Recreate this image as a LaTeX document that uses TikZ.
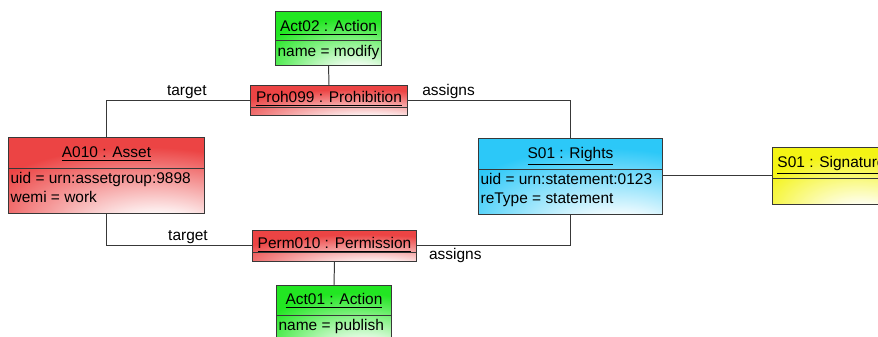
\documentclass[tikz,border=0pt]{standalone}
\usepackage{fontspec}
\setmainfont{Liberation Sans}
\usetikzlibrary{shapes.multipart}
\definecolor{cAct}{HTML}{22E622}
\definecolor{cRule}{HTML}{EC4444}
\definecolor{cRights}{HTML}{2CC8F8}
\definecolor{cSig}{HTML}{F4F414}
\definecolor{cLine}{HTML}{383838}
\colorlet{umlbase}{white}
% glow towards the lower middle of each box
\pgfdeclareradialshading[umlbase]{umlglow}{\pgfpoint{15bp}{-40bp}}%
  {color(0bp)=(white);color(9bp)=(white);color(42bp)=(umlbase);color(100bp)=(umlbase)}
\newcommand\upx{0.7113pt}
\newcommand\cstrut[2]{\rule[-\dimexpr\upx*#2\relax]{0pt}{\dimexpr\upx*(#1+#2)\relax}}
\tikzset{
  cls/.style = {rectangle split, rectangle split parts=2,
                rectangle split part align={center,left}, align=left,
                draw=cLine, line width=0.7pt, inner xsep=1.5pt, inner ysep=0pt,
                anchor=north west, font=\fontsize{11}{12}\selectfont,
                shade, shading=umlglow, /utils/exec={\colorlet{umlbase}{#1}}},
  ln/.style  = {draw=cLine, line width=0.7pt},
  lab/.style = {font=\fontsize{11}{12}\selectfont, inner sep=1pt},
}

\begin{document}
\begin{tikzpicture}[x=0.025cm, y=-0.025cm]
  \useasboundingbox[fill=white] (0,0) rectangle (878,336);
  \clip (0,0) rectangle (878,336);

  \node[cls=cAct, minimum width=106*0.025cm] (act02) at (275,11)
    {\cstrut{20}{8}\underline{Act02 : Action}\nodepart{two}\cstrut{16}{8}name = modify};
  \node[cls=cRule, minimum width=157*0.025cm] (proh) at (250,85)
    {\cstrut{17}{4}\underline{Proh099 : Prohibition}\nodepart{two}\cstrut{7}{0}};
  \node[cls=cRule, minimum width=196*0.025cm] (a010) at (8,137)
    {\cstrut{20}{10}\underline{A010 : Asset}\nodepart{two}\cstrut{15}{3}uid = urn:assetgroup:9898\\\cstrut{14}{10}wemi = work};
  \node[cls=cRights, minimum width=184*0.025cm] (rights) at (478,138)
    {\cstrut{20}{10}\underline{S01 : Rights}\nodepart{two}\cstrut{15}{3}uid = urn:statement:0123\\\cstrut{14}{11}reType = statement};
  \node[cls=cSig, minimum width=118*0.025cm] (sig) at (772,147)
    {\cstrut{20}{10}\underline{S01 : Signature}\nodepart{two}\cstrut{25}{0}};
  \node[cls=cRule, minimum width=164*0.025cm] (perm) at (252,230)
    {\cstrut{18}{3}\underline{Perm010 : Permission}\nodepart{two}\cstrut{8}{0}};
  \node[cls=cAct, minimum width=115*0.025cm] (act01) at (276,285)
    {\cstrut{19}{10}\underline{Act01 : Action}\nodepart{two}\cstrut{15}{10}name = publish};

  \draw[ln] (act02.south) -- (proh.north);
  \draw[ln] (a010.north) |- node[lab, above, pos=0.78] {target} (proh.west);
  \draw[ln] (proh.east) -| node[lab, above, pos=0.125] {assigns} (rights.north);
  \draw[ln] (sig.west) -- (sig.west -| rights.east);
  \draw[ln] (a010.south) |- node[lab, above, pos=0.78] {target} (perm.west);
  \draw[ln] (rights.south) |- node[lab, below, pos=0.875] {assigns} (perm.east);
  \draw[ln] (perm.south) -- (act01.north);
\end{tikzpicture}
\end{document}
